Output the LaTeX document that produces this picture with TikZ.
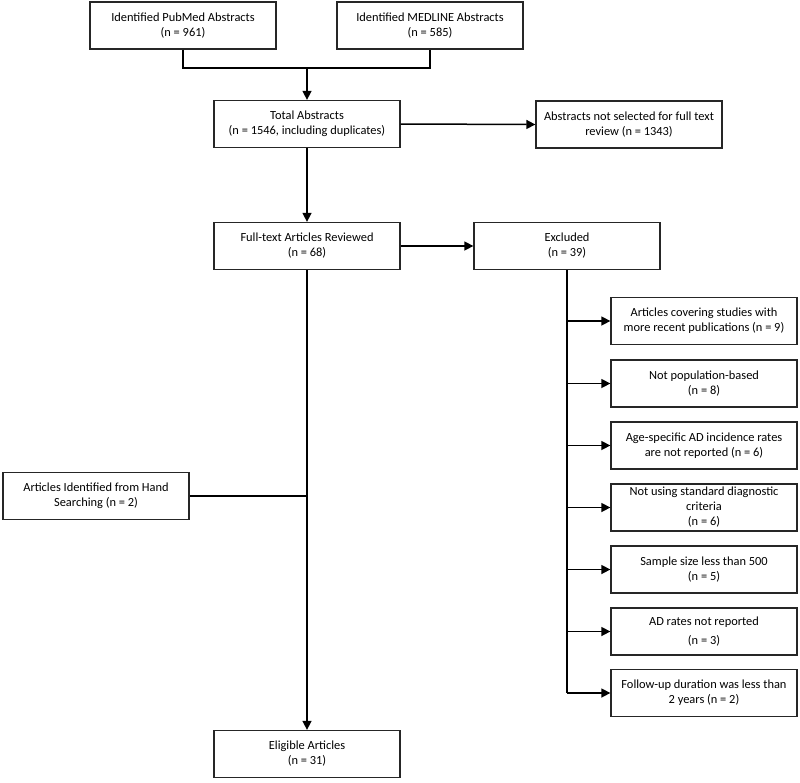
\documentclass[tikz,border=0pt]{standalone}
\usepackage{fontspec}
\setmainfont{Carlito}
\usetikzlibrary{arrows.meta}
\begin{document}
\begin{tikzpicture}[x=1pt,y=-1pt,
  box/.style={draw=black!85,line width=1.3pt,minimum width=186pt,minimum height=47pt,inner sep=0pt,align=center,font=\fontsize{12.4}{15}\selectfont},
  ln/.style={line width=1.5pt},
  arr/.style={line width=1.5pt,-{Triangle[length=9pt,width=9pt]}}]
\useasboundingbox (0,0) rectangle (800,782);
\node[box] (pub) at (183,25.5) {Identified PubMed Abstracts\\(n = 961)};
\node[box] (med) at (430,25.5) {Identified MEDLINE Abstracts\\(n = 585)};
\node[box] (tot) at (307,124) {Total Abstracts\\(n = 1546, including duplicates)};
\node[box] (ns) at (629,124.5) {Abstracts not selected for full text\\review (n = 1343)};
\node[box] (ft) at (307,246) {Full-text Articles Reviewed\\(n = 68)};
\node[box] (ex) at (567,246) {Excluded\\(n = 39)};
\node[box] (r1) at (704,321) {Articles covering studies with\\more recent publications (n = 9)};
\node[box] (r2) at (704,383.5) {Not population-based\\(n = 8)};
\node[box] (r3) at (704,445.5) {Age-specific AD incidence rates\\are not reported (n = 6)};
\node[box] (r4) at (704,507.5) {Not using standard diagnostic\\criteria\\(n = 6)};
\node[box] (r5) at (704,569.5) {Sample size less than 500\\(n = 5)};
\node[box] (r6) at (704,631.5) {AD rates not reported\\[4pt](n = 3)};
\node[box] (r7) at (704,693) {Follow-up duration was less than\\2 years (n = 2)};
\node[box] (hand) at (96,496) {Articles Identified from Hand\\Searching (n = 2)};
\node[box] (el) at (307,754) {Eligible Articles\\(n = 31)};
\coordinate (jn) at (307,68);
\draw[ln] (pub.south) |- (jn) -| (med.south);
\draw[arr] (jn) -- (tot.north);
\draw[arr] (tot.east) -- (ns.west);
\draw[arr] (tot.south) -- (ft.north);
\draw[arr] (ft.east) -- (ex.west);
\draw[arr] (ft.south) -- (el.north);
\draw[ln] (hand.east) -- (hand.east -| ft.south);
\draw[ln] (ex.south) -- (ex.south |- r7.west);
\foreach \r in {r1,r2,r3,r4,r5,r6,r7}
  \draw[arr] (ex.south |- \r.west) -- (\r.west);
\end{tikzpicture}
\end{document}
